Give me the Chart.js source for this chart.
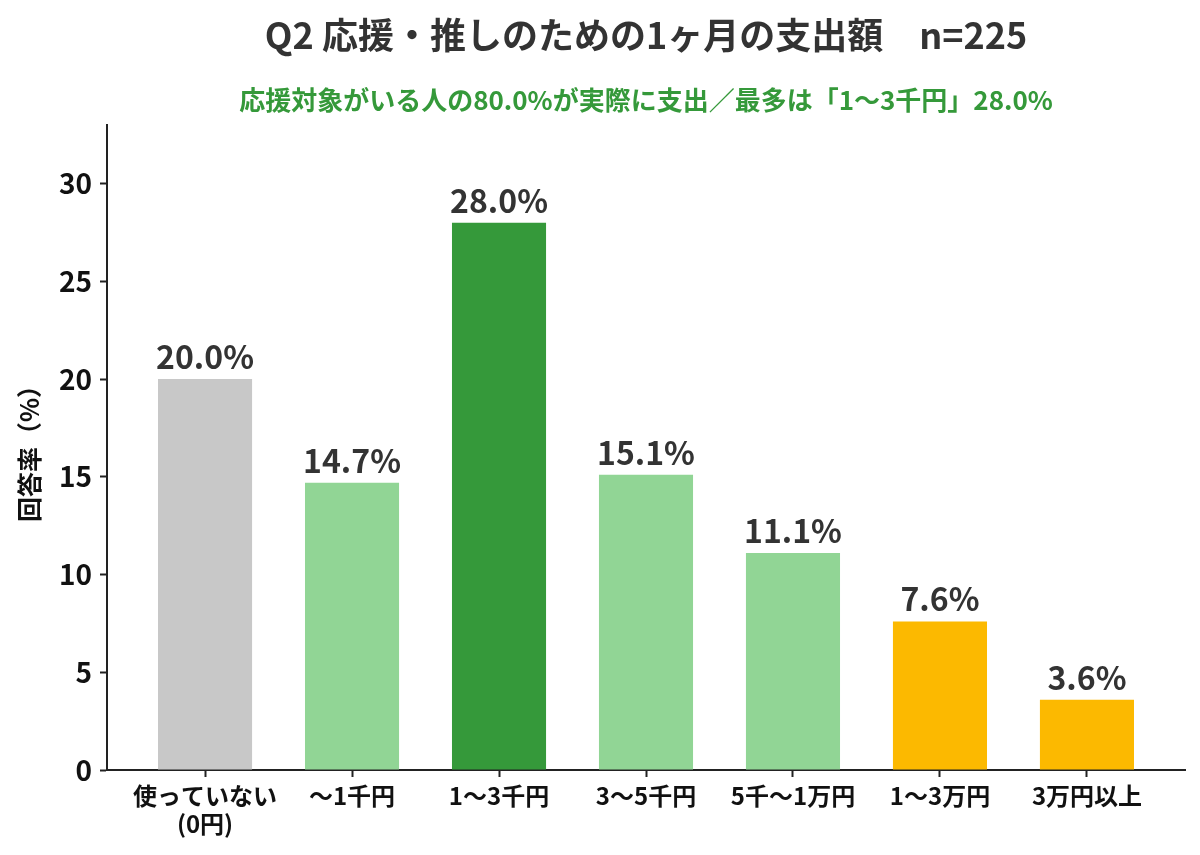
<!DOCTYPE html>
<html lang="ja">
<head>
<meta charset="utf-8">
<script src="https://cdn.jsdelivr.net/npm/chart.js@4.4.1/dist/chart.umd.min.js"></script>
<style>
  html, body { margin: 0; padding: 0; background: #fff; }
  #wrap { width: 1200px; height: 855px; }
</style>
</head>
<body>
<div id="wrap"><canvas id="spend"></canvas></div>
<script>
// data
var categories = [['使っていない', '(0円)'], '〜1千円', '1〜3千円', '3〜5千円', '5千〜1万円', '1〜3万円', '3万円以上'];
var shares = [20.0, 14.7, 28.0, 15.1, 11.1, 7.6, 3.6];
var barColors = ['#c8c8c8', '#91d595', '#35993a', '#91d595', '#91d595', '#fcb900', '#fcb900'];
var yTicks = [0, 5, 10, 15, 20, 25, 30];
var titleText = 'Q2 応援・推しのための1ヶ月の支出額　n=225';
var subtitleText = '応援対象がいる人の80.0%が実際に支出／最多は「1〜3千円」28.0%';

var FONT = '"Noto Sans CJK JP", "Noto Sans", sans-serif';

// title + subtitle centred over the plot area
var headings = {
    id: 'headings',
    afterDraw: function (chart) {
        var ctx = chart.ctx;
        var cx = (chart.chartArea.left + chart.chartArea.right) / 2;
        ctx.save();
        ctx.textAlign = 'center';
        ctx.textBaseline = 'middle';
        ctx.fillStyle = '#333333';
        ctx.font = 'bold 36px ' + FONT;
        ctx.fillText(titleText, cx, 35);
        ctx.fillStyle = '#35993a';
        ctx.font = 'bold 26px ' + FONT;
        ctx.fillText(subtitleText, cx, 100);
        ctx.restore();
    }
};

// value labels above each bar
var barLabels = {
    id: 'barLabels',
    afterDatasetsDraw: function (chart) {
        var ctx = chart.ctx;
        var meta = chart.getDatasetMeta(0);
        ctx.save();
        ctx.font = 'bold 32px ' + FONT;
        ctx.fillStyle = '#333333';
        ctx.textAlign = 'center';
        ctx.textBaseline = 'alphabetic';
        meta.data.forEach(function (bar, i) {
            ctx.fillText(shares[i].toFixed(1) + '%', bar.x, bar.y - 10);
        });
        ctx.restore();
    }
};

var ctx = document.getElementById('spend').getContext('2d');
var chart = new Chart(ctx, {
    type: 'bar',
    data: {
        datasets: [{
            data: shares.map(function (v, i) { return {x: i, y: v}; }),
            backgroundColor: barColors,
            categoryPercentage: 0.8,
            barPercentage: 0.8
        }]
    },
    options: {
        responsive: true,
        maintainAspectRatio: false,
        animation: false,
        layout: { padding: { left: 0, right: 15, top: 125, bottom: 0 } },
        plugins: {
            legend: { display: false },
            tooltip: { enabled: false },
            title: { display: false },
            subtitle: { display: false }
        },
        scales: {
            x: {
                type: 'linear',
                offset: false,
                min: -0.667,
                max: 6.667,
                afterBuildTicks: function (scale) {
                    scale.ticks = categories.map(function (c, i) { return {value: i}; });
                },
                afterFit: function (scale) { scale.height = 85; },
                ticks: {
                    autoSkip: false,
                    maxRotation: 0,
                    padding: 4,
                    color: '#111111',
                    font: { family: FONT, size: 24, weight: 'bold', lineHeight: 1.2 },
                    callback: function (v) { return categories[v]; }
                },
                grid: { offset: false, drawOnChartArea: false, drawTicks: true, tickLength: 7, color: '#222222', tickWidth: 2 },
                border: { color: '#222222', width: 2 }
            },
            y: {
                min: 0,
                max: 33,
                afterBuildTicks: function (scale) {
                    scale.ticks = yTicks.map(function (v) { return {value: v}; });
                },
                afterFit: function (scale) { scale.width = 107; },
                ticks: {
                    padding: 8,
                    color: '#111111',
                    font: { family: FONT, size: 28, weight: 'bold' }
                },
                grid: { drawOnChartArea: false, drawTicks: true, tickLength: 7, color: '#222222', tickWidth: 2 },
                border: { color: '#222222', width: 2 },
                title: {
                    display: true,
                    text: '回答率（%）',
                    color: '#111111',
                    font: { family: FONT, size: 25, weight: 'bold' },
                    padding: { top: 14, bottom: 0 }
                }
            }
        }
    },
    plugins: [barLabels, headings]
});
</script>
</body>
</html>
